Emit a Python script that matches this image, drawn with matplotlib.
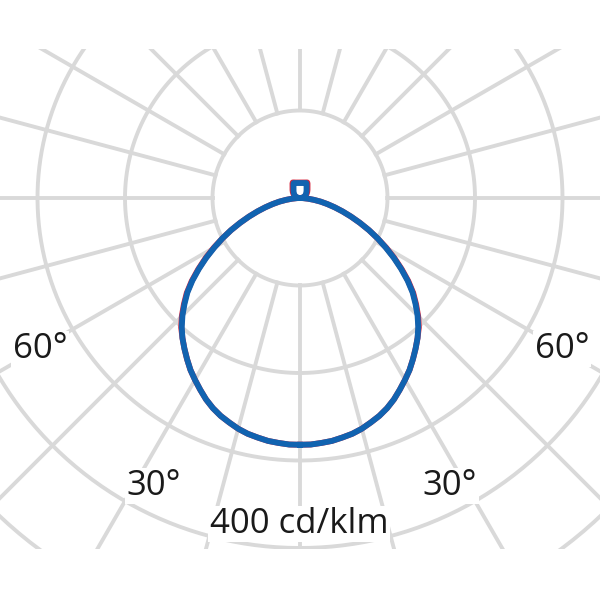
import numpy as np
import matplotlib.pyplot as plt

# --- données : intensité lumineuse (cd/klm) selon l'angle gamma depuis le nadir ---
gamma = np.arange(0, 180.1, 2.5)

# plan C90-C270 (bleu)
c90 = [282, 282, 281, 280, 278, 276, 273, 269, 265, 260, 254, 247, 240, 233, 225, 217, 209, 200, 190,
       179, 168, 155, 141, 127, 113, 100, 87, 74, 62, 51, 41, 32, 24, 16, 9, 3.5,
       0, 0.7, 1.4, 2.1, 2.8, 3.4, 4.1, 4.7, 5.3, 5.8, 6.3, 6.8, 7.3, 7.8, 8.3, 8.8, 9.3, 9.8,
       10.4, 11.0, 11.6, 12.2, 13.0, 13.9, 14.9, 16.1, 17.6, 18.5, 18.2, 17.9, 17.7, 17.5, 17.4,
       17.3, 17.2, 17.2, 17.1]
# plan C0-C180 (rouge)
c0 = [282, 282, 281, 280, 278, 276, 273, 269, 265, 260, 254, 247, 240, 233, 225, 217, 209, 201, 191,
      180, 169, 156, 142, 128, 114, 100, 87, 74, 62, 51, 41, 32, 24, 16, 9, 3.5,
      0, 0.8, 1.6, 2.4, 3.2, 3.9, 4.7, 5.4, 6.1, 6.7, 7.3, 7.9, 8.4, 9.0, 9.6, 10.2, 10.8, 11.4,
      12.0, 12.7, 13.3, 14.1, 15.0, 15.9, 17.1, 18.6, 19.6, 19.2, 18.9, 18.6, 18.3, 18.1, 18.0,
      17.9, 17.8, 17.7, 17.7]

cercles = [100, 200, 300, 400, 500, 600, 700]   # cd/klm
rayons_angles = np.arange(0, 360, 15)            # degrés
unite = "cd/klm"


def polaire(g, r):
    # gamma mesuré depuis le nadir (vers le bas), courbe symétrique gauche/droite
    g = np.radians(np.asarray(g, dtype=float))
    r = np.asarray(r, dtype=float)
    x = np.concatenate([r * np.sin(g), -(r * np.sin(g))[::-1]])
    y = np.concatenate([-r * np.cos(g), (-r * np.cos(g))[::-1]])
    return x, y


plt.rcParams['font.family'] = ['Open Sans', 'DejaVu Sans']

fig = plt.figure(figsize=(6, 6), dpi=100)
echelle = 0.875  # px par cd/klm
ax = fig.add_axes([0, 51 / 600, 1, 500 / 600])
ax.set_xlim(-300 / echelle, 300 / echelle)
ax.set_ylim(-(549 - 198) / echelle, (198 - 49) / echelle)
ax.axis("off")

gris = "#d9d9d9"
t = np.linspace(0, 2 * np.pi, 400)
for c in cercles:
    ax.plot(c * np.cos(t), c * np.sin(t), color=gris, lw=2.8, zorder=1)
for a in rayons_angles:
    th = np.radians(a)
    ax.plot([cercles[0] * np.cos(th), 1000 * np.cos(th)],
            [cercles[0] * np.sin(th), 1000 * np.sin(th)], color=gris, lw=2.8, zorder=1)

xr, yr = polaire(gamma, c0)
ax.plot(xr, yr, color="#d7263d", lw=4.2, zorder=3, solid_joinstyle="round")
xb, yb = polaire(gamma, c90)
ax.plot(xb, yb, color="#1163b0", lw=4.2, zorder=4, solid_joinstyle="round")

boite = dict(facecolor="white", edgecolor="none", pad=1)
style = dict(fontsize=25, color="#1a1a1a", ha="center", va="center", bbox=boite, zorder=5)


def px(x, y):
    return (x - 300) / echelle, -(y - 198) / echelle


ax.text(*px(40, 349), "60°", **style)
ax.text(*px(562, 349), "60°", **style)
ax.text(*px(154, 486), "30°", **style)
ax.text(*px(450, 486), "30°", **style)
ax.text(*px(299, 524), "400 " + unite, **style)

fig.savefig("out.png", dpi=100, facecolor="white")
